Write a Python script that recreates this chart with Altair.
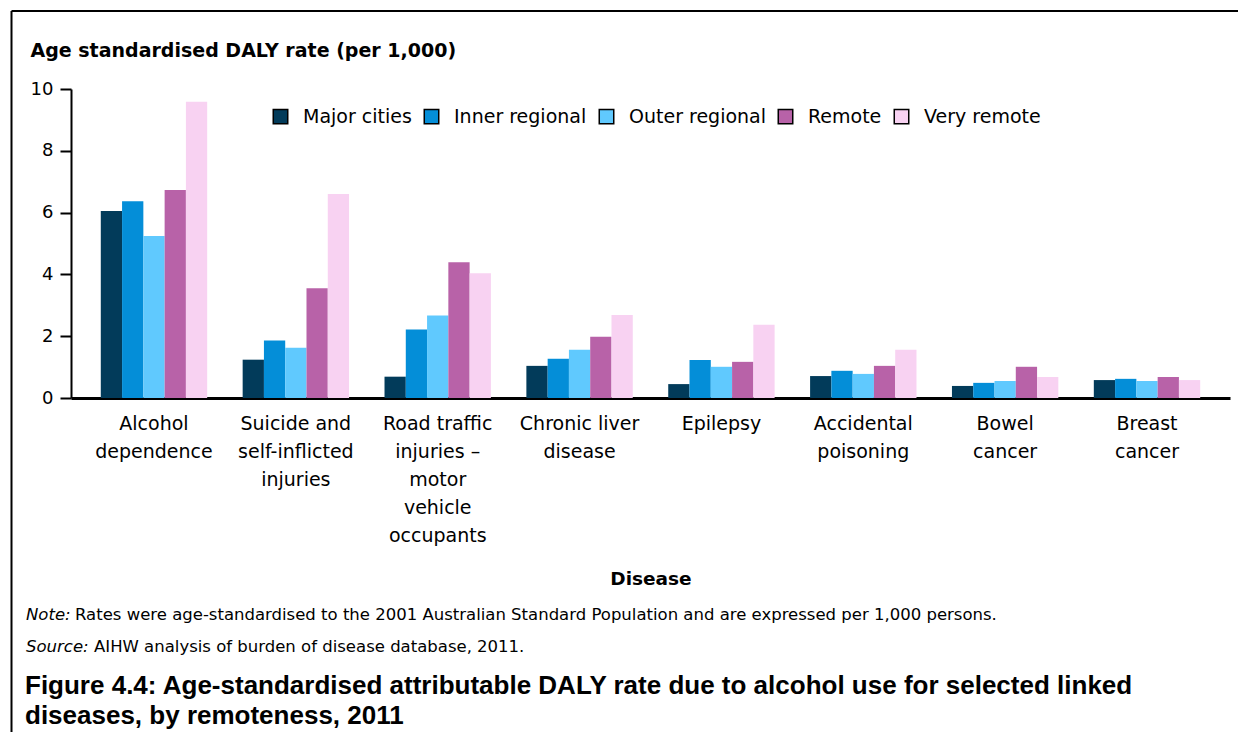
import altair as alt
import pandas as pd

categories = [
    "Alcohol dependence",
    "Suicide and self-inflicted injuries",
    "Road traffic injuries – motor vehicle occupants",
    "Chronic liver disease",
    "Epilepsy",
    "Accidental poisoning",
    "Bowel cancer",
    "Breast cancer",
]
category_lines = [
    ["Alcohol", "dependence"],
    ["Suicide and", "self-inflicted", "injuries"],
    ["Road traffic", "injuries –", "motor", "vehicle", "occupants"],
    ["Chronic liver", "disease"],
    ["Epilepsy"],
    ["Accidental", "poisoning"],
    ["Bowel", "cancer"],
    ["Breast", "cancer"],
]
series = ["Major cities", "Inner regional", "Outer regional", "Remote", "Very remote"]
major_cities = [6.05, 1.24, 0.69, 1.04, 0.45, 0.71, 0.39, 0.58]
inner_regional = [6.37, 1.86, 2.22, 1.27, 1.23, 0.88, 0.49, 0.62]
outer_regional = [5.24, 1.63, 2.67, 1.56, 1.01, 0.78, 0.55, 0.55]
remote = [6.73, 3.55, 4.39, 1.98, 1.17, 1.04, 1.01, 0.68]
very_remote = [9.59, 6.60, 4.04, 2.69, 2.37, 1.56, 0.68, 0.58]
colors = ["#023B5A", "#048ED8", "#60C9FE", "#B862A8", "#F8D2F2"]
y_ticks = [0, 2, 4, 6, 8, 10]

values = [major_cities, inner_regional, outer_regional, remote, very_remote]
rows = []
for s, vals in zip(series, values):
    for c, v in zip(categories, vals):
        rows.append({"Disease": c, "Remoteness": s, "Rate": v})
df = pd.DataFrame(rows)

FONT = "DejaVu Sans"
TFONT = "Liberation Sans"

def js_list(items):
    return "[" + ",".join("'" + i.replace("'", "\\'") + "'" for i in items) + "]"

label_expr = "[" + ",".join(js_list(l) for l in category_lines) + "][indexof(" + js_list(categories) + ", datum.value)]"

W, H = 1159, 309

bars = alt.Chart(df).mark_bar().encode(
    x=alt.X(
        "Disease:N",
        sort=categories,
        scale=alt.Scale(paddingInner=0.25, paddingOuter=0.21),
        axis=alt.Axis(
            title="Disease",
            labelExpr=label_expr,
            labelAngle=0,
            labelFontSize=19,
            labelLineHeight=28,
            labelPadding=16,
            labelLimit=0,
            labelColor="#000000",
            labelFont=FONT,
            ticks=False,
            domainColor="#000000",
            domainWidth=3,
            titleFont=FONT,
            titleFontSize=18.5,
            titleFontWeight="bold",
            titleColor="#000000",
            titleBaseline="middle",
            titleY=180,
        ),
    ),
    xOffset=alt.XOffset("Remoteness:N", sort=series, scale=alt.Scale(paddingInner=0, paddingOuter=0)),
    y=alt.Y(
        "Rate:Q",
        scale=alt.Scale(domain=[0, 10], nice=False),
        axis=alt.Axis(
            title="Age standardised DALY rate (per 1,000)",
            values=y_ticks,
            grid=False,
            labelFontSize=18,
            labelFont=FONT,
            labelColor="#000000",
            labelPadding=7,
            tickSize=11,
            tickColor="#000000",
            tickWidth=2,
            domainColor="#000000",
            domainWidth=2,
            titleAngle=0,
            titleAlign="left",
            titleBaseline="middle",
            titleX=-41,
            titleY=-39,
            titleFont=FONT,
            titleFontSize=19,
            titleFontWeight="bold",
            titleColor="#000000",
        ),
    ),
    color=alt.Color(
        "Remoteness:N",
        sort=series,
        scale=alt.Scale(domain=series, range=colors),
        legend=alt.Legend(
            title=None,
            orient="none",
            direction="horizontal",
            legendX=200,
            legendY=18,
            symbolType="square",
            symbolSize=210,
            symbolStrokeColor="#000000",
            symbolStrokeWidth=1.5,
            symbolOpacity=1,
            labelFontSize=19,
            labelFont=FONT,
            labelColor="#000000",
            labelOffset=13,
            columnPadding=9,
        ),
    ),
)

def text_layer(txt, x, y, size, weight="normal", style="normal", font=FONT):
    return alt.Chart(pd.DataFrame({"t": [txt]})).mark_text(
        align="left", baseline="middle", font=font, fontSize=size,
        fontWeight=weight, fontStyle=style, color="#000000",
    ).encode(text="t:N", x=alt.value(x), y=alt.value(y))

ox, oy = 71, 89  # plot origin in page coords
notes = [
    text_layer("Note:", 26 - ox, 615 - oy, 16.5, style="italic"),
    text_layer("Rates were age-standardised to the 2001 Australian Standard Population and are expressed per 1,000 persons.", 75 - ox, 615 - oy, 16.5),
    text_layer("Source:", 26 - ox, 647 - oy, 16.5, style="italic"),
    text_layer("AIHW analysis of burden of disease database, 2011.", 94 - ox, 647 - oy, 16.5),
    text_layer("Figure 4.4: Age-standardised attributable DALY rate due to alcohol use for selected linked", 25 - ox, 686 - oy, 26, weight="bold", font=TFONT),
    text_layer("diseases, by remoteness, 2011", 25 - ox, 716 - oy, 26, weight="bold", font=TFONT),
]

border_top = alt.Chart(pd.DataFrame({"a": [0]})).mark_rule(color="#000000", strokeWidth=2).encode(
    x=alt.value(11.5 - ox), x2=alt.value(1240 - ox), y=alt.value(11 - oy)
)
border_left = alt.Chart(pd.DataFrame({"a": [0]})).mark_rule(color="#000000", strokeWidth=2).encode(
    x=alt.value(11.5 - ox), y=alt.value(11 - oy), y2=alt.value(740 - oy)
)

chart = alt.layer(bars, border_top, border_left, *notes).properties(
    width=W,
    height=H,
    autosize=alt.AutoSizeParams(type="none"),
    padding={"left": ox - 8, "top": oy - 8, "right": 1230 - (ox - 8) - W, "bottom": 724 - (oy - 8) - H},
    background="#ffffff",
).configure_view(stroke=None)

chart.save("out.html", embed_options={"renderer": "svg", "actions": False})
